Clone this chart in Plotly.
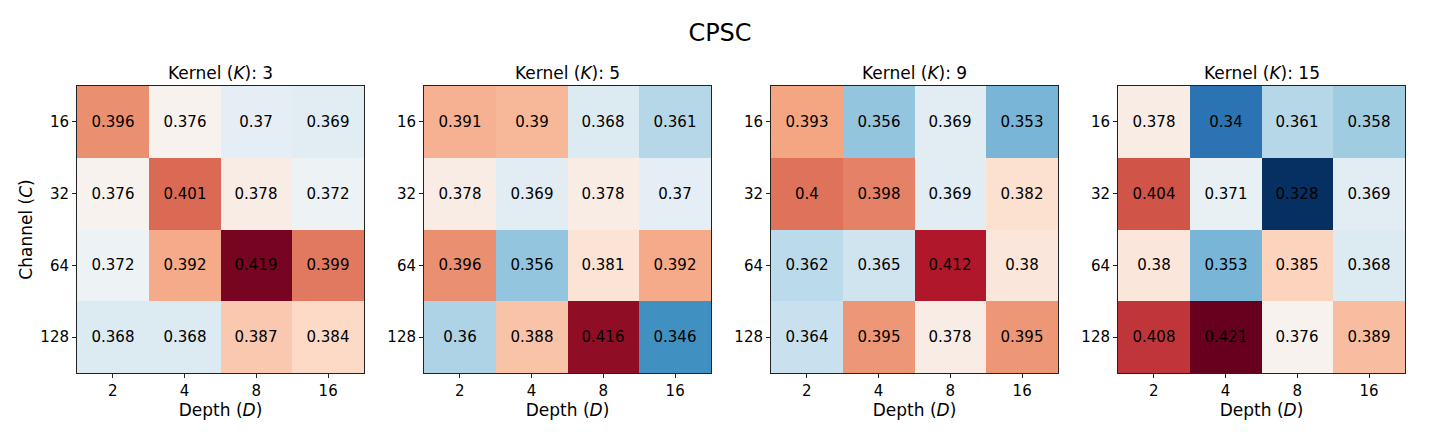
import plotly.graph_objects as go

# values (rows: channel, cols: depth)
depth_labels = ["2", "4", "8", "16"]
channel_labels = ["16", "32", "64", "128"]
kernels = [3, 5, 9, 15]

k3 = [[0.396, 0.376, 0.37, 0.369],
      [0.376, 0.401, 0.378, 0.372],
      [0.372, 0.392, 0.419, 0.399],
      [0.368, 0.368, 0.387, 0.384]]
k5 = [[0.391, 0.39, 0.368, 0.361],
      [0.378, 0.369, 0.378, 0.37],
      [0.396, 0.356, 0.381, 0.392],
      [0.36, 0.388, 0.416, 0.346]]
k9 = [[0.393, 0.356, 0.369, 0.353],
      [0.4, 0.398, 0.369, 0.382],
      [0.362, 0.365, 0.412, 0.38],
      [0.364, 0.395, 0.378, 0.395]]
k15 = [[0.378, 0.34, 0.361, 0.358],
       [0.404, 0.371, 0.328, 0.369],
       [0.38, 0.353, 0.385, 0.368],
       [0.408, 0.421, 0.376, 0.389]]
grids = [k3, k5, k9, k15]

# matplotlib RdBu_r
rdbu = ["#053061", "#2166ac", "#4393c3", "#92c5de", "#d1e5f0", "#f7f7f7",
        "#fddbc7", "#f4a582", "#d6604d", "#b2182b", "#67001f"]
colorscale = [[i / (len(rdbu) - 1), c] for i, c in enumerate(rdbu)]

zmin = min(min(min(r) for r in g) for g in grids)
zmax = max(max(max(r) for r in g) for g in grids)

# page body adds an 8px margin, so the figure is drawn 8px in from the window edge
PAD = 8
W, H = 1440 - 2 * PAD, 432 - 2 * PAD
lefts = [77, 424, 771, 1118]
size = 287
top = 86

fig = go.Figure()
font = "DejaVu Sans"
annotations = []
layout = {}

for i, (k, g) in enumerate(zip(kernels, grids)):
    n = "" if i == 0 else str(i + 1)
    fig.add_trace(go.Heatmap(
        z=g,
        x=list(range(4)),
        y=list(range(4)),
        text=[[f"{v:g}" for v in row] for row in g],
        texttemplate="%{text}",
        textfont=dict(size=15, color="black", family=font),
        colorscale=colorscale,
        zmin=zmin, zmax=zmax,
        showscale=False,
        hoverinfo="skip",
        xaxis="x" + n, yaxis="y" + n,
    ))
    x0 = (lefts[i] - PAD) / W
    x1 = (lefts[i] - PAD + size) / W
    y1 = 1 - (top - PAD) / H
    y0 = 1 - (top - PAD + size) / H
    axis_common = dict(
        showline=True, linecolor="#222222", linewidth=1, mirror=True,
        ticks="outside", ticklen=4, tickcolor="#222222",
        showgrid=False, zeroline=False,
        tickfont=dict(size=15, color="black", family=font),
        range=[-0.5, 3.5], tickvals=list(range(4)), fixedrange=True,
    )
    layout["xaxis" + n] = dict(
        axis_common, domain=[x0, x1], anchor="y" + n,
        ticktext=depth_labels,
        title=dict(text="Depth (<i>D</i>)", font=dict(size=17, color="black", family=font),
                   standoff=4),
    )
    ya = dict(axis_common, domain=[y0, y1], anchor="x" + n,
              ticktext=channel_labels, range=[3.5, -0.5])
    if i == 0:
        ya["title"] = dict(text="Channel (<i>C</i>)",
                           font=dict(size=17, color="black", family=font), standoff=3)
    layout["yaxis" + n] = ya
    annotations.append(dict(
        text=f"Kernel (<i>K</i>): {k}", x=(x0 + x1) / 2, y=y1,
        xref="paper", yref="paper", xanchor="center", yanchor="bottom",
        yshift=1, showarrow=False, font=dict(size=17, color="black", family=font),
    ))

fig.update_layout(
    **layout,
    annotations=annotations,
    title=dict(text="CPSC", x=0.5, xanchor="center", y=1 - (33 - PAD) / H, yanchor="middle",
               font=dict(size=24, color="black", family=font)),
    width=W, height=H,
    margin=dict(l=0, r=0, t=0, b=0),
    paper_bgcolor="white", plot_bgcolor="white",
    font=dict(family=font, color="black"),
)

fig.write_html("out.html")
